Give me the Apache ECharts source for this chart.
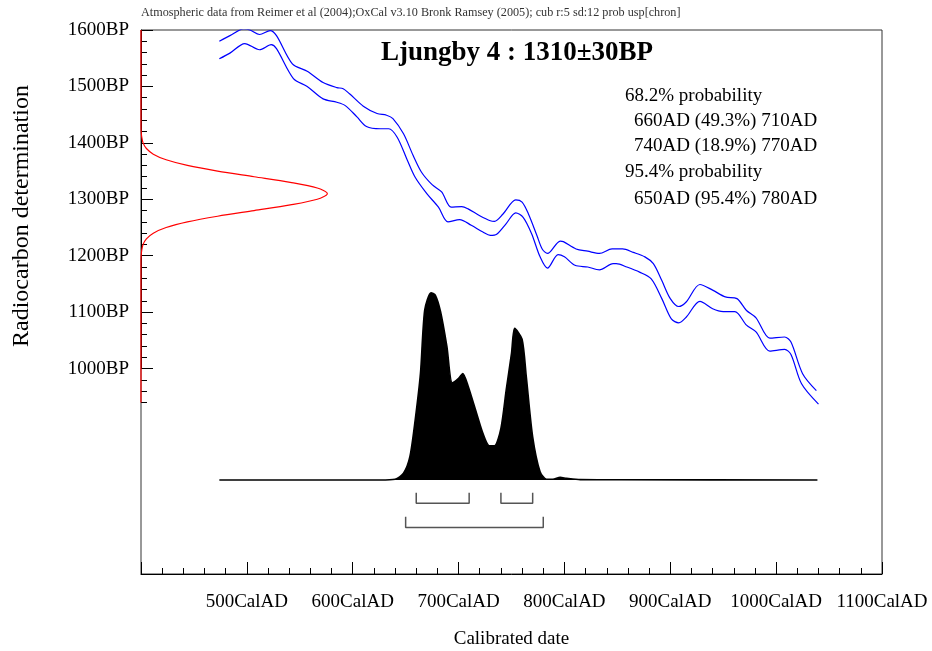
<!DOCTYPE html>
<html><head><meta charset="utf-8">
<script src="https://cdn.jsdelivr.net/npm/echarts@6/dist/echarts.min.js"></script>
<style>html,body{margin:0;padding:0;background:#fff}#c{width:932px;height:651px}</style>
</head><body><div id="c"></div>
<script>
// ---- data ----
const upperYears=[474,484,497,503,512,522,528,543,557,572,585,591,597,610,623,632,638,648,657,665,675,684,693,703,709,720,730,734,742,754,760,766,774,779,784,796,799,811,822,833,845,855,865,876,884,892,900,908,915,928,940,952,963,972,981,994,1008,1014,1025,1038];
const upperBP=[1580,1590,1602,1600,1592,1599,1590,1540,1527,1507,1498,1496,1487,1465,1452,1449,1443,1416,1378,1348,1326,1313,1286,1287,1283,1271,1262,1261,1274,1299,1295,1274,1236,1212,1204,1226,1225,1212,1208,1204,1212,1212,1206,1198,1186,1156,1124,1110,1118,1149,1139,1127,1124,1103,1090,1054,1056,1047,991,961];
const lowerYears=[474,484,498,512,523,528,544,557,572,585,593,604,613,626,634,642,651,659,670,681,690,701,712,723,730,736,745,754,761,769,777,784,794,800,810,822,833,846,849,859,871,882,892,901,908,915,928,940,950,961,972,981,994,1008,1014,1024,1040];
const lowerBP=[1549,1559,1576,1565,1574,1567,1514,1500,1478,1472,1466,1446,1429,1425,1425,1410,1372,1339,1310,1286,1260,1264,1254,1242,1236,1238,1257,1276,1268,1239,1198,1178,1202,1198,1183,1180,1175,1186,1186,1180,1171,1159,1124,1088,1081,1091,1119,1106,1101,1101,1077,1065,1031,1034,1025,973,937];
// radiocarbon determination (red), relative height
const redBP=[1600,1430,1420,1410,1400,1390,1380,1370,1360,1350,1340,1330,1320,1310,1300,1290,1280,1270,1260,1250,1240,1230,1220,1210,1200,1190,940];
const redRel=[0,0,0.001,0.004,0.011,0.029,0.066,0.135,0.249,0.411,0.607,0.801,0.946,1,0.946,0.801,0.607,0.411,0.249,0.135,0.066,0.029,0.011,0.004,0.001,0,0];
// calibrated probability (black), relative height
const probYears=[474,626,640,648,654,659,664,668,674,678,683,689,694,700,704,709,717,723,729,734,740,745,750,753,760,764,770,777,783,789,796,802,815,852,1039];
const probRel=[0,0,0.004,0.036,0.124,0.319,0.567,0.904,0.996,0.984,0.895,0.709,0.517,0.541,0.567,0.5,0.355,0.248,0.182,0.182,0.275,0.479,0.674,0.807,0.749,0.549,0.23,0.044,0.004,0.004,0.014,0.009,0.002,0.001,0];
const ranges68=[[660,710],[740,770]];
const ranges95=[[650,780]];
const xTickYears=[500,600,700,800,900,1000,1100];
const yTickBP=[1000,1100,1200,1300,1400,1500,1600];
const titleText='Ljungby 4 : 1310\u00b130BP';
const headerText='Atmospheric data from Reimer et al (2004);OxCal v3.10 Bronk Ramsey (2005); cub r:5 sd:12 prob usp[chron]';
const probLines=['68.2% probability','  660AD (49.3%) 710AD','  740AD (18.9%) 770AD','95.4% probability','  650AD (95.4%) 780AD'];

// ---- chart ----
const FF='"Liberation Serif", "Times New Roman", serif';
const chart=echarts.init(document.getElementById('c'));
const zip=(a,b)=>a.map((v,i)=>[v,b[i]]);
const RED_AMP=176;
function bracket(r,top,bot){return {type:'line',xAxisIndex:0,yAxisIndex:1,showSymbol:false,silent:true,
  lineStyle:{color:'#555',width:1.5},data:[[r[0],top],[r[0],bot],[r[1],bot],[r[1],top]]};}
const series=[
 {type:'line',xAxisIndex:0,yAxisIndex:0,showSymbol:false,smooth:0.3,lineStyle:{color:'#0000ff',width:1.2},data:zip(upperYears,upperBP)},
 {type:'line',xAxisIndex:0,yAxisIndex:0,showSymbol:false,smooth:0.3,lineStyle:{color:'#0000ff',width:1.2},data:zip(lowerYears,lowerBP)},
 {type:'line',xAxisIndex:0,yAxisIndex:0,showSymbol:false,smooth:0.3,z:5,lineStyle:{color:'#ff0000',width:1.2},data:redBP.map((b,i)=>[400+redRel[i]*RED_AMP,b])},
 {type:'line',xAxisIndex:0,yAxisIndex:1,showSymbol:false,smooth:0.25,lineStyle:{color:'#000',width:1.6},areaStyle:{color:'#000',opacity:1},data:zip(probYears,probRel)}
];
ranges68.forEach(r=>series.push(bracket(r,-0.068,-0.124)));
ranges95.forEach(r=>series.push(bracket(r,-0.195,-0.252)));

const graphics=[
 {type:'text',x:141,y:13,style:{text:headerText,font:'12.2px '+FF,fill:'#333',textVerticalAlign:'middle'}},
 {type:'text',x:517,y:53,style:{text:titleText,font:'bold 27px '+FF,fill:'#000',textAlign:'center',textVerticalAlign:'middle'}},
 {type:'text',x:22,y:216,rotation:Math.PI/2,style:{text:'Radiocarbon determination',font:'24px '+FF,fill:'#000',textAlign:'center',textVerticalAlign:'middle'}}
];
const lineY=[96,121,146,172,199];
probLines.forEach((t,i)=>{
  const indent=t.startsWith('  ');
  graphics.push({type:'text',x:indent?634:625,y:lineY[i],style:{text:t.trim(),font:'19px '+FF,fill:'#000',textVerticalAlign:'middle'}});
});

const option={
 animation:false,
 backgroundColor:'#fff',
 grid:[
  {left:141,top:30,width:741,height:544,show:true,borderColor:'#333',borderWidth:1,outerBoundsMode:'none',containLabel:false},
  {left:141,top:30,width:741,height:338.6,outerBoundsMode:'none',containLabel:false},
  {left:141,top:368.6,width:741,height:33.9,outerBoundsMode:'none',containLabel:false}
 ],
 xAxis:[
  {gridIndex:0,type:'value',min:400,max:1100,interval:100,position:'bottom',
   axisLine:{onZero:false,lineStyle:{color:'#000',width:1}},
   axisTick:{inside:true,length:12,lineStyle:{color:'#000'}},
   minorTick:{show:true,splitNumber:5,length:6,lineStyle:{color:'#000'}},
   splitLine:{show:false},minorSplitLine:{show:false},
   axisLabel:{margin:19,color:'#000',fontFamily:FF,fontSize:19,
     formatter:v=>xTickYears.includes(v)?v+'CalAD':''},
   name:'Calibrated date',nameLocation:'middle',nameGap:56,
   nameTextStyle:{color:'#000',fontFamily:FF,fontSize:19}},
  {gridIndex:1,type:'value',min:400,max:1100,show:false},
  {gridIndex:2,type:'value',min:400,max:1100,show:false}
 ],
 yAxis:[
  {gridIndex:0,type:'value',min:636,max:1600,show:false},
  {gridIndex:0,type:'value',min:-0.5,max:2.394,show:false},
  {gridIndex:1,type:'value',min:1000,max:1600,interval:100,
   axisLine:{show:true,onZero:false,lineStyle:{color:'#000'}},
   axisTick:{show:true,inside:true,length:12,lineStyle:{color:'#000'}},
   minorTick:{show:true,splitNumber:5,length:6,lineStyle:{color:'#000'}},
   splitLine:{show:false},minorSplitLine:{show:false},
   axisLabel:{margin:12,color:'#000',fontFamily:FF,fontSize:19,
     formatter:v=>yTickBP.includes(v)?v+'BP':''}},
  {gridIndex:2,type:'value',min:940,max:1000,interval:20,
   axisLine:{show:false,onZero:false},axisTick:{show:true,inside:true,length:6,lineStyle:{color:'#000'}},
   axisLabel:{show:false},splitLine:{show:false}}
 ],
 graphic:graphics,
 series:series
};
chart.setOption(option);
</script></body></html>
